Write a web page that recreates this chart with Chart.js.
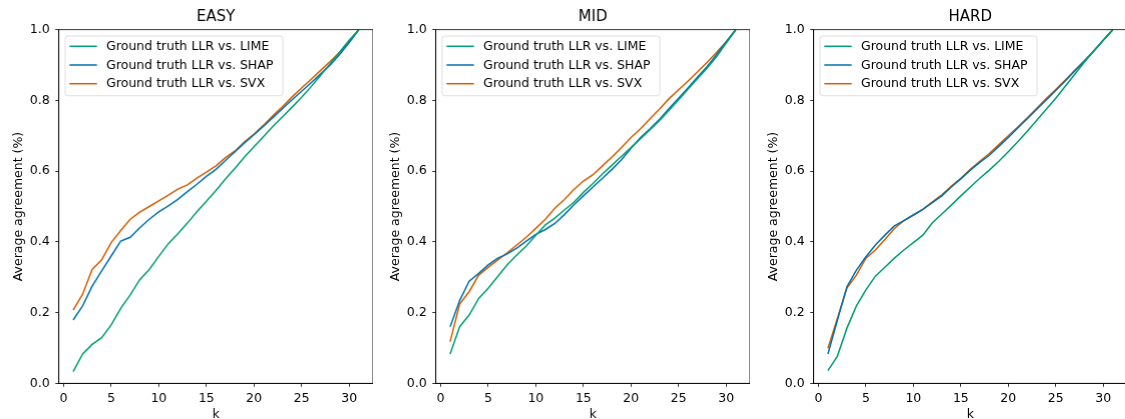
<!DOCTYPE html>
<html>
<head>
<meta charset="utf-8">
<script src="https://cdn.jsdelivr.net/npm/chart.js@4.4.0/dist/chart.umd.min.js"></script>
<style>
  html, body { margin: 0; padding: 0; background: #fff; overflow: hidden; }
  body { width: 1125px; height: 419px; position: relative; }
  .panel { position: absolute; top: 0; height: 430px; width: 372.7px; }
</style>
</head>
<body>
<div class="panel" id="p1" style="left:0px"><canvas id="c1"></canvas></div>
<div class="panel" id="p2" style="left:377.3px"><canvas id="c2"></canvas></div>
<div class="panel" id="p3" style="left:754.6px"><canvas id="c3"></canvas></div>
<script>
// x values (k)
const k = [1,2,3,4,5,6,7,8,9,10,11,12,13,14,15,16,17,18,19,20,21,22,23,24,25,26,27,28,29,30,31];
const labels = ["Ground truth LLR vs. LIME", "Ground truth LLR vs. SHAP", "Ground truth LLR vs. SVX"];
const yTicks = [0.0, 0.2, 0.4, 0.6, 0.8, 1.0];
const xTicks = [0, 5, 10, 15, 20, 25, 30];

// EASY
const easyLime = [0.033,0.083,0.110,0.129,0.165,0.212,0.250,0.293,0.322,0.359,0.395,0.423,0.453,0.485,0.515,0.545,0.578,0.608,0.640,0.669,0.698,0.727,0.754,0.781,0.809,0.839,0.871,0.904,0.937,0.970,1.0];
const easyShap = [0.179,0.219,0.275,0.318,0.360,0.402,0.413,0.440,0.464,0.485,0.502,0.520,0.542,0.563,0.585,0.605,0.630,0.655,0.680,0.703,0.727,0.752,0.777,0.802,0.826,0.850,0.875,0.900,0.930,0.964,1.0];
const easySvx  = [0.207,0.252,0.322,0.349,0.398,0.432,0.464,0.484,0.500,0.516,0.532,0.549,0.561,0.580,0.597,0.615,0.638,0.657,0.683,0.705,0.730,0.757,0.783,0.810,0.835,0.860,0.885,0.910,0.936,0.967,1.0];
// MID
const midLime = [0.083,0.160,0.193,0.240,0.269,0.302,0.335,0.363,0.388,0.419,0.448,0.467,0.490,0.512,0.540,0.565,0.592,0.617,0.642,0.667,0.692,0.717,0.743,0.772,0.802,0.832,0.862,0.892,0.924,0.962,1.0];
const midShap = [0.160,0.234,0.289,0.311,0.335,0.354,0.366,0.382,0.402,0.421,0.435,0.452,0.477,0.505,0.530,0.555,0.580,0.605,0.632,0.665,0.695,0.720,0.747,0.777,0.806,0.836,0.866,0.896,0.930,0.965,1.0];
const midSvx  = [0.118,0.224,0.259,0.306,0.328,0.349,0.369,0.391,0.413,0.438,0.464,0.495,0.520,0.548,0.572,0.590,0.615,0.640,0.667,0.695,0.720,0.748,0.776,0.805,0.830,0.855,0.881,0.908,0.936,0.966,1.0];
// HARD
const hardLime = [0.036,0.077,0.156,0.219,0.264,0.303,0.328,0.354,0.377,0.398,0.419,0.454,0.479,0.504,0.530,0.555,0.580,0.603,0.628,0.655,0.683,0.713,0.744,0.775,0.806,0.840,0.874,0.908,0.940,0.970,1.0];
const hardShap = [0.083,0.179,0.273,0.320,0.358,0.391,0.419,0.445,0.460,0.476,0.492,0.511,0.530,0.555,0.578,0.603,0.625,0.645,0.670,0.695,0.722,0.748,0.775,0.801,0.828,0.855,0.883,0.910,0.940,0.970,1.0];
const hardSvx  = [0.099,0.184,0.269,0.306,0.354,0.377,0.407,0.438,0.460,0.476,0.492,0.513,0.533,0.558,0.580,0.605,0.628,0.650,0.675,0.700,0.725,0.751,0.778,0.805,0.831,0.858,0.885,0.912,0.940,0.970,1.0];

const colors = ["#009e73", "#0072b2", "#d55e00"];
const FONT = "'DejaVu Sans', sans-serif";
const FS = 12.5;

// frame + legend inside the plot, matplotlib style
const framePlugin = {
    id: 'frame',
    afterDraw(chart) {
        const ctx = chart.ctx, a = chart.chartArea;
        ctx.save();
        ctx.strokeStyle = '#000';
        ctx.lineWidth = 0.8;
        ctx.strokeRect(a.left, a.top, a.right - a.left, a.bottom - a.top);

        // legend
        ctx.font = FS + "px " + FONT;
        let tw = 0;
        chart.data.datasets.forEach(function (ds) {
            tw = Math.max(tw, ctx.measureText(ds.label).width);
        });
        const bx = a.left + 6.3, by = a.top + 6.3;
        const bw = 41 + tw + 9.5, bh = 59.7;
        ctx.beginPath();
        ctx.roundRect(bx, by, bw, bh, 2.5);
        ctx.fillStyle = 'rgba(255,255,255,0.8)';
        ctx.fill();
        ctx.strokeStyle = '#d6d6d6';
        ctx.lineWidth = 0.8;
        ctx.stroke();
        chart.data.datasets.forEach(function (ds, i) {
            const yy = by + 10.3 + i * 18.7;
            ctx.beginPath();
            ctx.moveTo(bx + 4.3, yy);
            ctx.lineTo(bx + 31.7, yy);
            ctx.strokeStyle = ds.borderColor;
            ctx.lineWidth = 1.5;
            ctx.stroke();
            ctx.fillStyle = '#000';
            ctx.textBaseline = 'middle';
            ctx.fillText(ds.label, bx + 41, yy + 0.5);
        });
        ctx.restore();
    }
};

function make_panel(id, title, lime, shap, svx)
{
    const series = [lime, shap, svx];
    const datasets = series.map(function (s, i) {
        return {
            label: labels[i],
            data: k.map(function (kv, j) { return {x: kv, y: s[j]}; }),
            borderColor: colors[i],
            backgroundColor: colors[i],
            borderWidth: 1.5,
            pointRadius: 0,
            tension: 0,
            fill: false,
        };
    });
    new Chart(document.getElementById(id), {
        type: 'line',
        data: { datasets: datasets },
        options: {
            responsive: true,
            maintainAspectRatio: false,
            animation: false,
            events: [],
            layout: { padding: 0 },
            plugins: {
                legend: { display: false },
                tooltip: { enabled: false },
                title: {
                    display: true,
                    fullSize: false,
                    text: title,
                    color: '#000',
                    font: { family: FONT, size: 15, weight: 'normal', lineHeight: 1.2 },
                    padding: { top: 7.7, bottom: 4 },
                },
            },
            scales: {
                x: {
                    type: 'linear',
                    min: -0.5,
                    max: 32.5,
                    afterFit: function (s) { s.height = 46.7; },
                    afterBuildTicks: function (s) { s.ticks = xTicks.map(function (v) { return {value: v}; }); },
                    ticks: { color: '#000', font: { family: FONT, size: FS }, padding: 4.5, maxRotation: 0 },
                    grid: { drawOnChartArea: false, color: '#000', tickLength: 3.5, tickWidth: 0.8 },
                    border: { display: true, color: '#000', width: 0.8 },
                    title: { display: true, text: 'k', color: '#000', font: { family: FONT, size: FS }, padding: { top: 0, bottom: 8 } },
                },
                y: {
                    min: 0,
                    max: 1,
                    afterFit: function (s) { s.width = 58.7; },
                    afterBuildTicks: function (s) { s.ticks = yTicks.map(function (v) { return {value: v}; }); },
                    ticks: { color: '#000', font: { family: FONT, size: FS }, padding: 5.5,
                             callback: function (v) { return v.toFixed(1); } },
                    grid: { drawOnChartArea: false, color: '#000', tickLength: 3.5, tickWidth: 0.8 },
                    border: { display: true, color: '#000', width: 0.8 },
                    title: { display: true, text: 'Average agreement (%)', color: '#000', font: { family: FONT, size: FS }, padding: { top: 10.8, bottom: 0 } },
                },
            },
        },
        plugins: [framePlugin],
    });
}

make_panel("c1", "EASY", easyLime, easyShap, easySvx);
make_panel("c2", "MID", midLime, midShap, midSvx);
make_panel("c3", "HARD", hardLime, hardShap, hardSvx);
</script>
</body>
</html>
